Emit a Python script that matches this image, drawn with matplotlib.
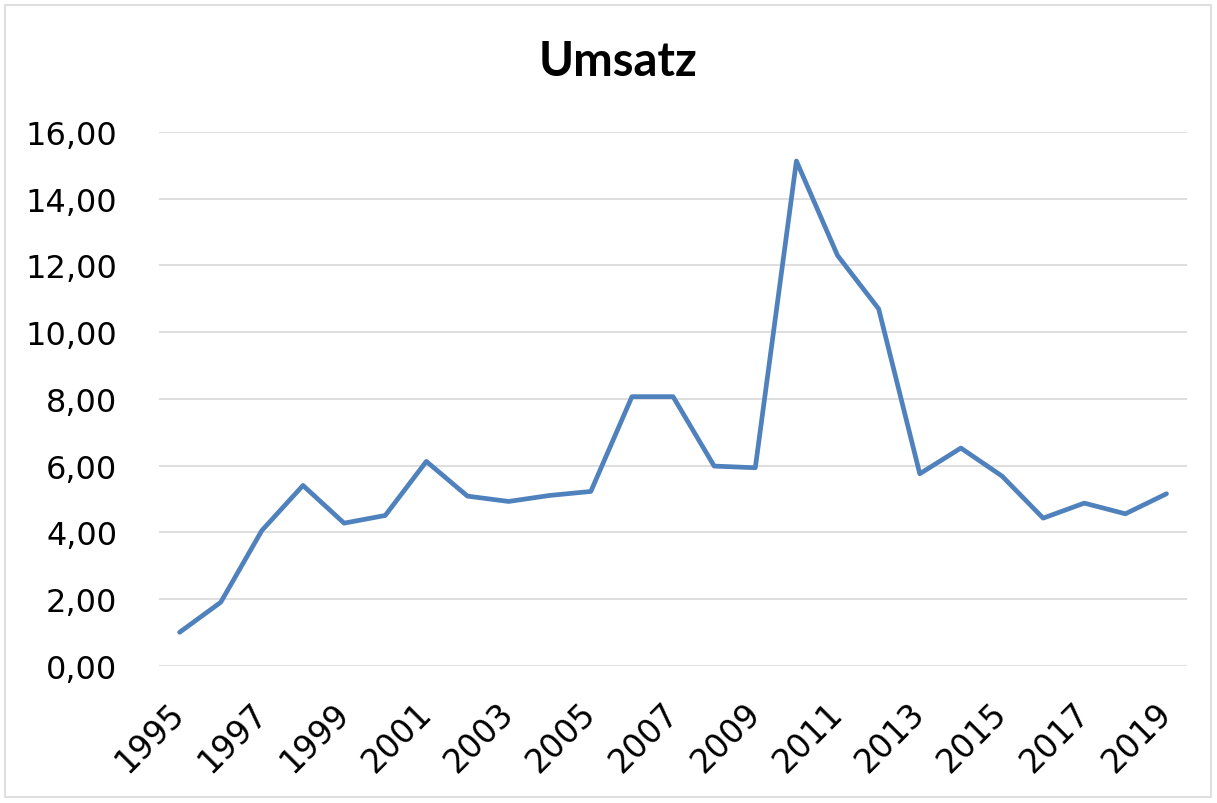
import matplotlib
matplotlib.use('Agg')
from matplotlib import pyplot as plt
from matplotlib.ticker import FuncFormatter
from matplotlib.patches import Rectangle

# data
years = [1995, 1996, 1997, 1998, 1999, 2000, 2001, 2002, 2003, 2004, 2005, 2006,
         2007, 2008, 2009, 2010, 2011, 2012, 2013, 2014, 2015, 2016, 2017, 2018, 2019]
umsatz = [1.01, 1.91, 4.06, 5.41, 4.28, 4.51, 6.13, 5.09, 4.93, 5.11, 5.23, 8.07,
          8.07, 5.99, 5.94, 15.13, 12.30, 10.70, 5.76, 6.53, 5.69, 4.43, 4.88, 4.56, 5.16]
label_years = years[::2]
y_ticks = [0, 2, 4, 6, 8, 10, 12, 14, 16]

fig = plt.figure(figsize=(12.17, 8.04), dpi=100)
ax = fig.add_axes([0.1307, 0.1704, 0.8447, 0.6642])

ax.plot(years, umsatz, color='#4F81BD', linewidth=3.4, solid_joinstyle='round',
        solid_capstyle='round', zorder=3)

ax.set_xlim(years[0] - 0.5, years[-1] + 0.5)
ax.set_ylim(0, 16)
ax.set_yticks(y_ticks)
ax.yaxis.set_major_formatter(FuncFormatter(lambda v, p: f"{v:.2f}".replace('.', ',')))
ax.set_xticks(label_years)
ax.set_xticklabels([str(y) for y in label_years], rotation=45, ha='right',
                   va='center', rotation_mode='anchor')

ax.grid(axis='y', color='#D9D9D9', linewidth=1.2)
ax.set_axisbelow(True)
for s in ax.spines.values():
    s.set_visible(False)
ax.tick_params(axis='both', length=0, colors='black')
ax.tick_params(axis='y', labelsize=23, pad=30)
ax.tick_params(axis='x', labelsize=23.5, pad=30)

fig.text(0.508, 0.905, "Umsatz", ha='center', va='baseline', fontsize=34,
         fontweight='bold', family='Lato')

# light chart border
fig.patches.append(Rectangle((5 / 1217, 6 / 804), 1206 / 1217, 792 / 804,
                             transform=fig.transFigure, fill=False,
                             edgecolor='#D9D9D9', linewidth=1.2))

plt.savefig("out.png", dpi=100)
